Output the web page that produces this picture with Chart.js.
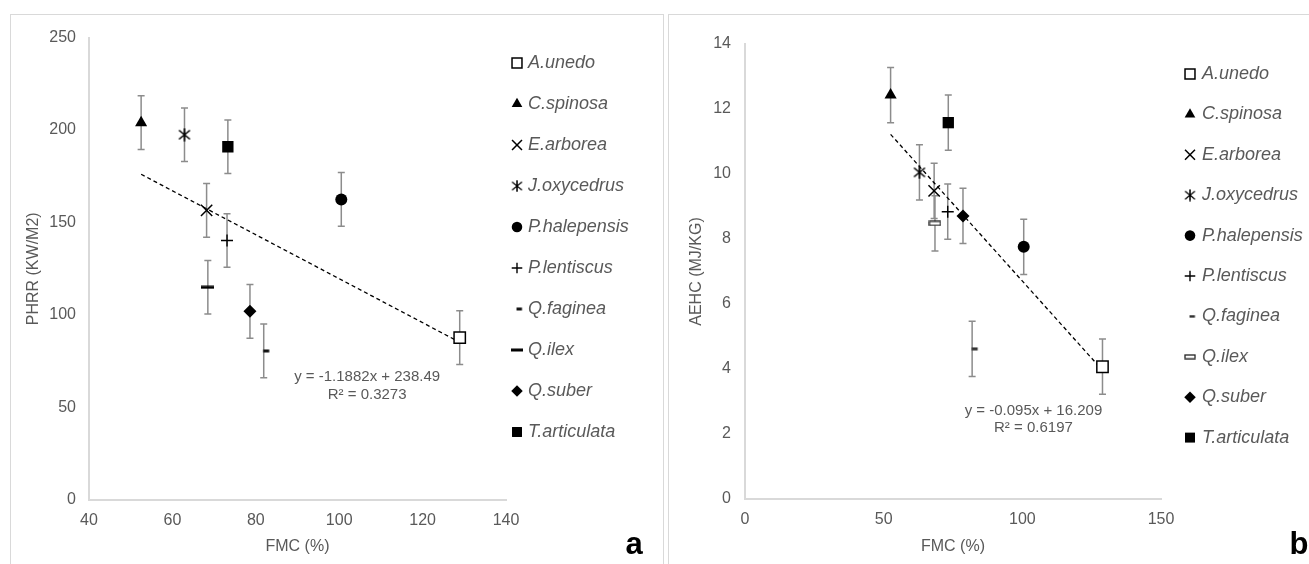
<!DOCTYPE html>
<html>
<head>
<meta charset="utf-8">
<script src="https://cdn.jsdelivr.net/npm/chart.js@4.4.1/dist/chart.umd.min.js"></script>
<style>
  body { margin: 0; background: #fff; width: 1309px; height: 564px; overflow: hidden; position: relative; }
  .panel { position: absolute; top: 14px; height: 600px; border: 1px solid #d9d9d9; box-sizing: border-box; }
  #pa { left: 10px; width: 654px; }
  #pb { left: 668px; width: 650px; }
  canvas { display: block; }
</style>
</head>
<body>
<div class="panel" id="pa"><canvas id="chartA"></canvas></div>
<div class="panel" id="pb"><canvas id="chartB"></canvas></div>
<script>
// data
const species = ["A.unedo", "C.spinosa", "E.arborea", "J.oxycedrus", "P.halepensis",
                 "P.lentiscus", "Q.faginea", "Q.ilex", "Q.suber", "T.articulata"];
const fmc = [128.9, 52.5, 68.2, 62.9, 100.5, 73.1, 81.9, 68.5, 78.6, 73.3];
const phrr = [87.8, 204, 156.6, 197.5, 162.5, 140.3, 80.6, 115, 102, 191];
const phrrErr = [14.5, 14.5, 14.5, 14.5, 14.5, 14.5, 14.5, 14.5, 14.5, 14.5];
const aehc = [4.07, 12.43, 9.48, 10.05, 7.76, 8.84, 4.62, 8.48, 8.71, 11.58];
const aehcErr = [0.85, 0.85, 0.85, 0.85, 0.85, 0.85, 0.85, 0.85, 0.85, 0.85];

// trendline end points
const trendFmc = [52.5, 128.9];
const phrrTrend = [176.1, 85.3];
const aehcTrend = [11.22, 3.96];

const xTicksA = [40, 60, 80, 100, 120, 140];
const yTicksA = [0, 50, 100, 150, 200, 250];
const xTicksB = [0, 50, 100, 150];
const yTicksB = [0, 2, 4, 6, 8, 10, 12, 14];

const GRAY = "#595959";
Chart.defaults.font.family = "'Liberation Sans', Arial, sans-serif";
Chart.defaults.color = GRAY;

function mk(w, h, draw) {
  const c = document.createElement("canvas");
  c.width = w; c.height = h;
  draw(c.getContext("2d"));
  return c;
}

const asterisk = mk(14, 14, g => {
  g.strokeStyle = "#000"; g.lineWidth = 1.6;
  g.beginPath();
  g.moveTo(1.5, 2.5); g.lineTo(12.5, 11.5);
  g.moveTo(12.5, 2.5); g.lineTo(1.5, 11.5);
  g.moveTo(7, 0.5); g.lineTo(7, 13.5);
  g.stroke();
});
const ilexA = mk(13, 4, g => { g.fillStyle = "#000"; g.fillRect(0, 0.5, 13, 3); });
const fagA = mk(14, 4, g => { g.fillStyle = "#111"; g.fillRect(6.5, 0.5, 6, 3); });
const ilexB = mk(13, 6, g => {
  g.fillStyle = "#fff"; g.strokeStyle = "#222"; g.lineWidth = 1.3;
  g.fillRect(1, 1, 11, 4); g.strokeRect(1, 1, 11, 4);
});
const fagB = mk(14, 4, g => { g.fillStyle = "#333"; g.fillRect(6.5, 0.5, 6, 3); });

function markers(ilex, fag) {
  return [
    { pointStyle: "rect", radius: 8, bg: "#fff", border: "#000", bw: 1.5 },
    { pointStyle: "triangle", radius: 7, bg: "#000", border: "#000", bw: 0 },
    { pointStyle: "crossRot", radius: 8, bg: "#000", border: "#000", bw: 1.5 },
    { pointStyle: asterisk },
    { pointStyle: "circle", radius: 6, bg: "#000", border: "#000", bw: 0 },
    { pointStyle: "cross", radius: 6, bg: "#000", border: "#000", bw: 1.4 },
    { pointStyle: fag },
    { pointStyle: ilex },
    { pointStyle: "rectRot", radius: 6.5, bg: "#000", border: "#000", bw: 0 },
    { pointStyle: "rect", radius: 8, bg: "#000", border: "#000", bw: 0 }
  ];
}

const errorBars = {
  id: "errorBars",
  beforeDatasetsDraw(chart) {
    const { ctx, scales: { x, y } } = chart;
    ctx.save();
    ctx.strokeStyle = "#8c8c8c";
    ctx.lineWidth = 1.5;
    chart.data.datasets.forEach(ds => {
      if (ds.err == null) return;
      ds.data.forEach(p => {
        const px = x.getPixelForValue(p.x);
        const top = y.getPixelForValue(p.y + ds.err);
        const bot = y.getPixelForValue(p.y - ds.err);
        ctx.beginPath();
        ctx.moveTo(px, top); ctx.lineTo(px, bot);
        ctx.moveTo(px - 3.5, top); ctx.lineTo(px + 3.5, top);
        ctx.moveTo(px - 3.5, bot); ctx.lineTo(px + 3.5, bot);
        ctx.stroke();
      });
    });
    ctx.restore();
  }
};

const sideLegend = {
  id: "sideLegend",
  afterDraw(chart, args, opts) {
    const ctx = chart.ctx;
    const drawPoint = Chart.helpers.drawPoint;
    ctx.save();
    chart.data.datasets.forEach((ds, i) => {
      if (ds.err == null) return;
      const y = opts.y0 + i * opts.step;
      const st = ds.pointStyle;
      if (typeof st === "object") {
        const w = st.width * 0.9, h = st.height * 0.9;
        ctx.drawImage(st, opts.x - w / 2, y - h / 2, w, h);
      } else {
        ctx.fillStyle = ds.backgroundColor;
        ctx.strokeStyle = ds.borderColor;
        ctx.lineWidth = ds.borderWidth;
        drawPoint(ctx, { pointStyle: st, radius: ds.pointRadius * 0.88, borderWidth: ds.borderWidth }, opts.x, y);
      }
      ctx.fillStyle = GRAY;
      ctx.font = "italic 18px 'Liberation Sans', Arial, sans-serif";
      ctx.textBaseline = "middle";
      ctx.textAlign = "left";
      ctx.fillText(ds.label, opts.textX, y);
    });
    ctx.restore();
  }
};

const trendLabel = {
  id: "trendLabel",
  afterDraw(chart, args, opts) {
    const { ctx, scales: { x, y } } = chart;
    const px = x.getPixelForValue(opts.x);
    const py = y.getPixelForValue(opts.y);
    ctx.save();
    ctx.fillStyle = GRAY;
    ctx.font = "15px 'Liberation Sans', Arial, sans-serif";
    ctx.textAlign = "center";
    ctx.textBaseline = "middle";
    opts.lines.forEach((t, i) => ctx.fillText(t, px, py + i * opts.gap));
    ctx.restore();
  }
};

const panelTag = {
  id: "panelTag",
  afterDraw(chart, args, opts) {
    const ctx = chart.ctx;
    ctx.save();
    ctx.fillStyle = "#000";
    ctx.font = "bold 31px 'Liberation Sans', Arial, sans-serif";
    ctx.textAlign = "center";
    ctx.textBaseline = "alphabetic";
    ctx.fillText(opts.text, opts.x, opts.y);
    ctx.restore();
  }
};

function makeChart(id, c) {
  const mks = markers(c.ilex, c.fag);
  const datasets = species.map((name, i) => ({
    label: name,
    data: [{ x: fmc[i], y: c.values[i] }],
    err: c.errs[i],
    pointStyle: mks[i].pointStyle,
    pointRadius: mks[i].radius || 6,
    pointHoverRadius: mks[i].radius || 6,
    backgroundColor: mks[i].bg || "#000",
    borderColor: mks[i].border || "#000",
    borderWidth: mks[i].bw || 0,
    showLine: false
  }));
  datasets.push({
    type: "line",
    label: "trend",
    data: trendFmc.map((x, i) => ({ x: x, y: c.trend[i] })),
    borderColor: "#000",
    borderWidth: 1.3,
    borderDash: [4, 3],
    pointRadius: 0,
    fill: false
  });

  return new Chart(document.getElementById(id), {
    type: "scatter",
    data: { datasets: datasets },
    plugins: [errorBars, sideLegend, trendLabel, panelTag],
    options: {
      responsive: true,
      maintainAspectRatio: false,
      animation: false,
      layout: { padding: c.padding },
      plugins: {
        legend: { display: false },
        tooltip: { enabled: false },
        sideLegend: c.legend,
        trendLabel: c.label,
        panelTag: c.tag
      },
      scales: {
        x: {
          type: "linear",
          min: c.xTicks[0],
          max: c.xTicks[c.xTicks.length - 1],
          afterBuildTicks: s => { s.ticks = c.xTicks.map(v => ({ value: v })); },
          afterFit: s => { s.height = c.xHeight; },
          grid: { display: false, drawTicks: false },
          border: { display: true, color: "#d9d9d9", width: 2 },
          ticks: { color: GRAY, font: { size: 16 }, padding: 11 },
          title: { display: true, text: "FMC (%)", color: GRAY, font: { size: 16 }, padding: 0 }
        },
        y: {
          type: "linear",
          min: c.yTicks[0],
          max: c.yTicks[c.yTicks.length - 1],
          afterBuildTicks: s => { s.ticks = c.yTicks.map(v => ({ value: v })); },
          afterFit: s => { s.width = c.yWidth; },
          grid: { display: false, drawTicks: false },
          border: { display: true, color: "#d9d9d9", width: 2 },
          ticks: { color: GRAY, font: { size: 16 }, padding: c.yTickPad },
          title: { display: true, text: c.yTitle, color: GRAY, font: { size: 16 }, padding: { top: c.yTitlePad, bottom: 0 } }
        }
      }
    }
  });
}

makeChart("chartA", {
  values: phrr, errs: phrrErr, trend: phrrTrend,
  xTicks: xTicksA, yTicks: yTicksA,
  yTitle: "PHRR (KW/M2)",
  ilex: ilexA, fag: fagA,
  padding: { left: 0, top: 19, right: 157, bottom: 57 },
  xHeight: 56, yWidth: 78, yTickPad: 13, yTitlePad: 13,
  legend: { x: 506, textX: 517, y0: 48, step: 41 },
  label: { lines: ["y = -1.1882x + 238.49", "R\u00b2 = 0.3273"], x: 106.7, y: 66.8, gap: 18 },
  tag: { text: "a", x: 623, y: 539 }
});

makeChart("chartB", {
  values: aehc, errs: aehcErr, trend: aehcTrend,
  xTicks: xTicksB, yTicks: yTicksB,
  yTitle: "AEHC (MJ/KG)",
  ilex: ilexB, fag: fagB,
  padding: { left: 0, top: 29, right: 156, bottom: 57 },
  xHeight: 57, yWidth: 76, yTickPad: 14, yTitlePad: 18,
  legend: { x: 521, textX: 533, y0: 59, step: 40.4 },
  label: { lines: ["y = -0.095x + 16.209", "R\u00b2 = 0.6197"], x: 104.0, y: 2.72, gap: 17.5 },
  tag: { text: "b", x: 630, y: 539 }
});
</script>
</body>
</html>
